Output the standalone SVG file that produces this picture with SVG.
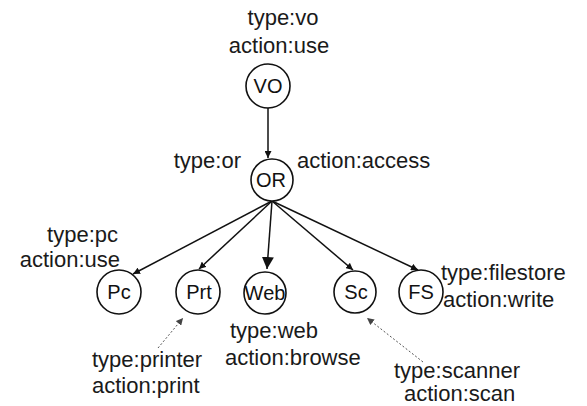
<svg xmlns="http://www.w3.org/2000/svg" width="587" height="406" viewBox="0 0 587 406">
  <style>
    .lbl { font-family: "Liberation Sans", Arial, sans-serif; font-size: 22px; fill: #1a1a1a; }
    .nd circle { fill: #ffffff; stroke: #111111; stroke-width: 1.6; }
    .nd text { font-family: "Liberation Sans", Arial, sans-serif; font-size: 20px; fill: #111111; text-anchor: middle; }
    .edge { stroke: #111111; stroke-width: 1.5; fill: none; }
    .dot { stroke: #555555; stroke-width: 1; stroke-dasharray: 2 2; fill: none; }
  </style>
  <defs>
    <marker id="ah" viewBox="0 0 10 10" refX="10" refY="5" markerWidth="7" markerHeight="7" markerUnits="userSpaceOnUse" orient="auto">
      <path d="M0,0 L10,5 L0,10 z" fill="#111111"/>
    </marker>
    <marker id="ahBig" viewBox="0 0 10 10" refX="10" refY="5" markerWidth="12" markerHeight="12" markerUnits="userSpaceOnUse" orient="auto">
      <path d="M0,0 L10,5 L0,10 z" fill="#111111"/>
    </marker>
    <marker id="ahDot" viewBox="0 0 10 10" refX="10" refY="5" markerWidth="7" markerHeight="7" markerUnits="userSpaceOnUse" orient="auto">
      <path d="M0,0 L10,5 L0,10 z" fill="#444444"/>
    </marker>
  </defs>

  <!-- connectors -->
  <g id="connectors">
    <line class="edge" x1="268" y1="108" x2="268" y2="158" marker-end="url(#ah)"/>
    <line class="edge" x1="272" y1="201" x2="133" y2="274" marker-end="url(#ah)"/>
    <line class="edge" x1="272" y1="201" x2="199" y2="269" marker-end="url(#ah)"/>
    <line class="edge" x1="272" y1="201" x2="267" y2="269" marker-end="url(#ahBig)"/>
    <line class="edge" x1="272" y1="201" x2="353" y2="270" marker-end="url(#ah)"/>
    <line class="edge" x1="272" y1="201" x2="418" y2="270" marker-end="url(#ah)"/>
    <line class="dot" x1="158" y1="348" x2="183" y2="318" marker-end="url(#ahDot)"/>
    <line class="dot" x1="423" y1="362" x2="367" y2="318" marker-end="url(#ahDot)"/>
  </g>

  <!-- nodes -->
  <g id="node-vo" class="nd">
    <circle cx="268" cy="86" r="22"/>
    <text x="268" y="93">VO</text>
  </g>
  <g id="node-or" class="nd">
    <circle cx="272" cy="180" r="21"/>
    <text x="271" y="187">OR</text>
  </g>
  <g id="node-pc" class="nd">
    <circle cx="119" cy="292" r="22"/>
    <text x="119" y="299">Pc</text>
  </g>
  <g id="node-prt" class="nd">
    <circle cx="198" cy="292" r="22"/>
    <text x="199" y="299">Prt</text>
  </g>
  <g id="node-web" class="nd">
    <circle cx="265" cy="293" r="21"/>
    <text x="265" y="300">Web</text>
  </g>
  <g id="node-sc" class="nd">
    <circle cx="355" cy="292" r="21"/>
    <text x="356" y="299">Sc</text>
  </g>
  <g id="node-fs" class="nd">
    <circle cx="421" cy="292" r="22"/>
    <text x="421" y="299">FS</text>
  </g>

  <!-- attribute labels -->
  <g id="labels">
    <text class="lbl" x="283" y="25" text-anchor="middle">type:vo</text>
    <text class="lbl" x="279" y="53" text-anchor="middle">action:use</text>
    <text class="lbl" x="241" y="168" text-anchor="end">type:or</text>
    <text class="lbl" x="297" y="168">action:access</text>
    <text class="lbl" x="118" y="242" text-anchor="end">type:pc</text>
    <text class="lbl" x="120" y="267" text-anchor="end">action:use</text>
    <text class="lbl" x="92" y="367">type:printer</text>
    <text class="lbl" x="92" y="393">action:print</text>
    <text class="lbl" x="230" y="338">type:web</text>
    <text class="lbl" x="225" y="365">action:browse</text>
    <text class="lbl" x="394" y="378" font-size="21">type:scanner</text>
    <text class="lbl" x="404" y="401" font-size="21">action:scan</text>
    <text class="lbl" x="441" y="280">type:filestore</text>
    <text class="lbl" x="443" y="307">action:write</text>
  </g>
</svg>
